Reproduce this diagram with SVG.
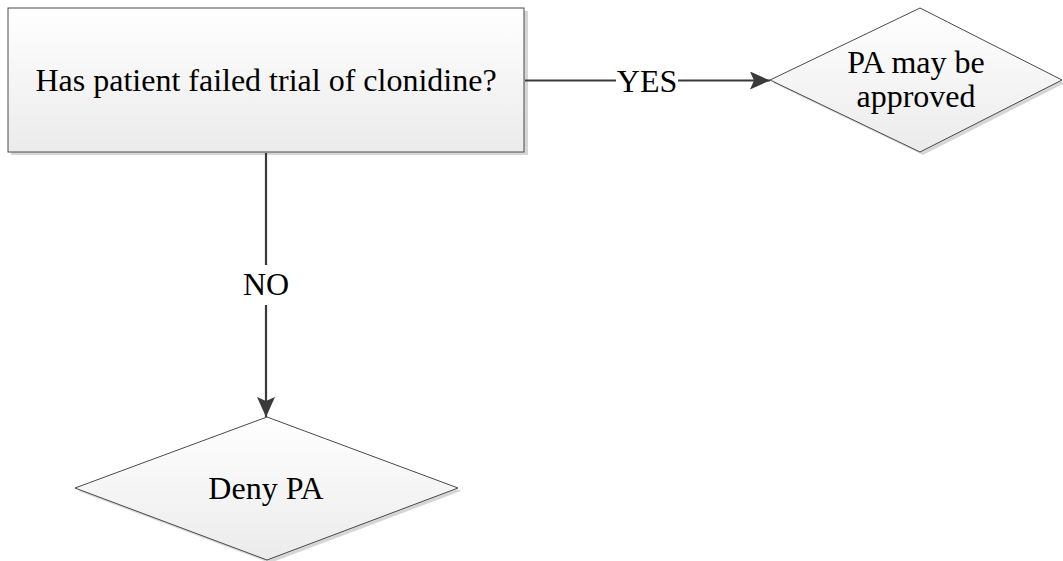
<svg xmlns="http://www.w3.org/2000/svg" width="1063" height="561" viewBox="0 0 1063 561">
  <defs>
    <linearGradient id="fillGrad" x1="0" y1="0" x2="0" y2="1">
      <stop offset="0" stop-color="#ffffff"/>
      <stop offset="1" stop-color="#ebebeb"/>
    </linearGradient>
    <marker id="arrow" viewBox="0 0 20 18" refX="20" refY="9" markerWidth="20" markerHeight="18" markerUnits="userSpaceOnUse" orient="auto">
      <path d="M0,0 L20,9 L0,18 L4,9 Z" fill="#3a3a3a"/>
    </marker>
  </defs>
  <style>
    .shape { fill: url(#fillGrad); stroke: #4a4a4a; stroke-width: 1; }
    .shadow { fill: #d6d6d6; stroke: none; }
    .conn { fill: none; stroke: #3a3a3a; stroke-width: 2.2; }
    .lbl { font-size: 32px; fill: #000; text-anchor: middle; }
    .lblbg { fill: #ffffff; }
  </style>
  <rect width="1063" height="561" fill="#ffffff"/>

  <g id="node-question">
    <rect class="shadow" x="11" y="11" width="517" height="144"/>
    <rect class="shape" x="8" y="8" width="516" height="144"/>
    <text class="lbl" font-family="'Liberation Serif', 'Times New Roman', 'DejaVu Serif', serif" x="266" y="91">Has patient failed trial of clonidine?</text>
  </g>

  <g id="node-approve">
    <polygon class="shadow" points="773,83 923,11 1065,83 923,155"/>
    <polygon class="shape" points="770,80 920,8 1062,80 920,152"/>
    <text class="lbl" font-family="'Liberation Serif', 'Times New Roman', 'DejaVu Serif', serif" x="916" y="73">PA may be</text>
    <text class="lbl" font-family="'Liberation Serif', 'Times New Roman', 'DejaVu Serif', serif" x="916" y="107">approved</text>
  </g>

  <g id="node-deny">
    <polygon class="shadow" points="78,491 270,420 461,491 270,563"/>
    <polygon class="shape" points="75,488 267,417 458,488 267,560"/>
    <text class="lbl" font-family="'Liberation Serif', 'Times New Roman', 'DejaVu Serif', serif" x="266" y="499">Deny PA</text>
  </g>

  <g id="connectors">
    <line class="conn" x1="525" y1="80.5" x2="770" y2="80.5" marker-end="url(#arrow)"/>
    <rect class="lblbg" x="616" y="66" width="62" height="30"/>
    <text class="lbl" font-family="'Liberation Serif', 'Times New Roman', 'DejaVu Serif', serif" x="647" y="92">YES</text>
    <line class="conn" x1="266" y1="153" x2="266" y2="417" marker-end="url(#arrow)"/>
    <rect class="lblbg" x="241" y="265" width="50" height="40"/>
    <text class="lbl" font-family="'Liberation Serif', 'Times New Roman', 'DejaVu Serif', serif" x="266" y="295">NO</text>
  </g>
</svg>
